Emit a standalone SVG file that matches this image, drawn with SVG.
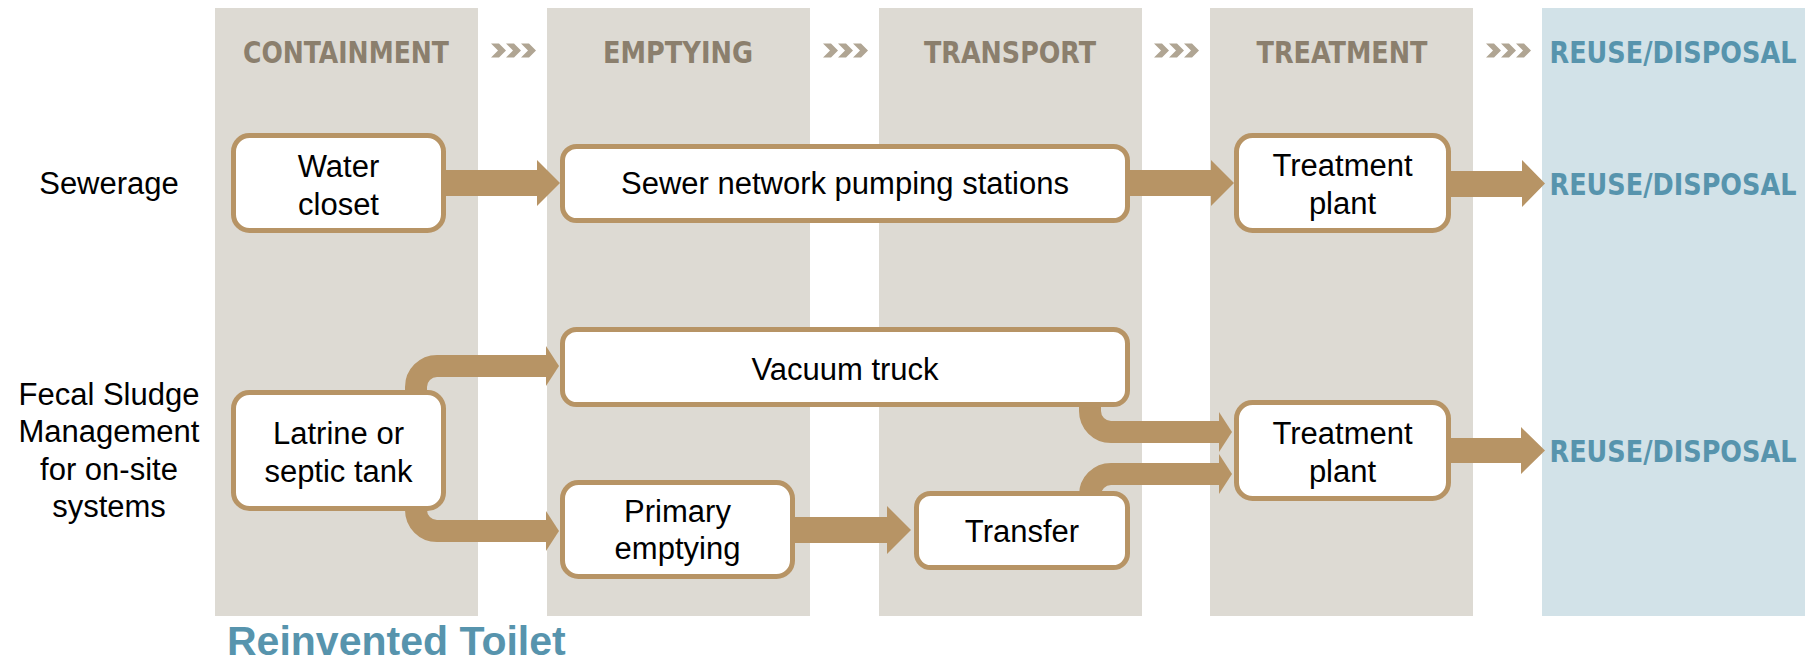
<svg xmlns="http://www.w3.org/2000/svg" width="1812" height="663" viewBox="0 0 1812 663">
  <style>
    .col { fill: #dddad3; }
    .colb { fill: #d2e2e8; }
    .hdr { font-family: "DejaVu Sans Condensed", "DejaVu Sans", sans-serif; font-stretch: condensed; font-weight: bold; font-size: 30px; fill: #8b7f6d; text-anchor: middle; }
    .hdrb { fill: #5794ad; }
    .chev { fill: #b0a593; }
    .box { fill: #ffffff; stroke: #b79465; stroke-width: 5; }
    .lbl { font-family: "Liberation Sans", Arial, sans-serif; font-size: 31px; fill: #000000; text-anchor: middle; }
    .arw { fill: #b79465; }
    .crv { fill: none; stroke: #b79465; stroke-width: 22; }
    .title { font-family: "Liberation Sans", Arial, sans-serif; font-weight: bold; font-size: 41px; fill: #5794ad; }
  </style>
  <defs>
    <polygon id="chv" points="0,0 8,0 15,7 8,14 0,14 7,7"/>
  </defs>

  <g id="columns">
    <rect class="col" x="215" y="8" width="263" height="608"/>
    <rect class="col" x="547" y="8" width="263" height="608"/>
    <rect class="col" x="879" y="8" width="263" height="608"/>
    <rect class="col" x="1210" y="8" width="263" height="608"/>
    <rect class="colb" x="1542" y="8" width="263" height="608"/>
  </g>

  <g id="headers">
    <text class="hdr" x="346" y="63" textLength="206" lengthAdjust="spacingAndGlyphs">CONTAINMENT</text>
    <text class="hdr" x="678" y="63" textLength="150" lengthAdjust="spacingAndGlyphs">EMPTYING</text>
    <text class="hdr" x="1010" y="63" textLength="172" lengthAdjust="spacingAndGlyphs">TRANSPORT</text>
    <text class="hdr" x="1342" y="63" textLength="171" lengthAdjust="spacingAndGlyphs">TREATMENT</text>
    <text class="hdr hdrb" x="1673" y="63" textLength="247" lengthAdjust="spacingAndGlyphs">REUSE/DISPOSAL</text>
  </g>

  <g id="chevrons">
    <use href="#chv" class="chev" x="491" y="43.5"/><use href="#chv" class="chev" x="506" y="43.5"/><use href="#chv" class="chev" x="521" y="43.5"/>
    <use href="#chv" class="chev" x="823" y="43.5"/><use href="#chv" class="chev" x="838" y="43.5"/><use href="#chv" class="chev" x="853" y="43.5"/>
    <use href="#chv" class="chev" x="1154" y="43.5"/><use href="#chv" class="chev" x="1169" y="43.5"/><use href="#chv" class="chev" x="1184" y="43.5"/>
    <use href="#chv" class="chev" x="1486" y="43.5"/><use href="#chv" class="chev" x="1501" y="43.5"/><use href="#chv" class="chev" x="1516" y="43.5"/>
  </g>

  <g id="row-labels">
    <text class="lbl" x="109" y="194">Sewerage</text>
    <text class="lbl" x="109" y="405">Fecal Sludge</text>
    <text class="lbl" x="109" y="442">Management</text>
    <text class="lbl" x="109" y="480">for on-site</text>
    <text class="lbl" x="109" y="517">systems</text>
  </g>

  <g id="connectors">
    <polygon class="arw" points="440,170 537,170 537,160 560,183 537,206 537,196 440,196"/>
    <polygon class="arw" points="1125,170 1211,170 1211,160 1234,183 1211,206 1211,196 1125,196"/>
    <polygon class="arw" points="1446,171 1522,171 1522,160 1545,183.5 1522,207 1522,197 1446,197"/>
    <polygon class="arw" points="1446,438 1521,438 1521,427 1545,450.5 1521,474 1521,463 1446,463"/>
    <polygon class="arw" points="790,517 887,517 887,506 911,530 887,554 887,543 790,543"/>
    <path class="crv" d="M 416 400 L 416 387 A 21 21 0 0 1 437 366 L 548 366"/>
    <polygon class="arw" points="546,346 559,366 546,386"/>
    <path class="crv" d="M 416 500 L 416 510 A 21 21 0 0 0 437 531 L 548 531"/>
    <polygon class="arw" points="546,511 559,531 546,551"/>
    <path class="crv" d="M 1090 400 L 1090 411 A 21 21 0 0 0 1111 432 L 1221 432"/>
    <polygon class="arw" points="1219,412 1232,432 1219,452"/>
    <path class="crv" d="M 1090 500 L 1090 495 A 21 21 0 0 1 1111 474 L 1221 474"/>
    <polygon class="arw" points="1219,454 1232,474 1219,494"/>
  </g>

  <g id="node-water-closet">
    <rect class="box" x="233.5" y="135.5" width="210" height="95" rx="16"/>
    <text class="lbl" x="338.5" y="177">Water</text>
    <text class="lbl" x="338.5" y="215">closet</text>
  </g>
  <g id="node-sewer-network">
    <rect class="box" x="562.5" y="146.5" width="565" height="74" rx="14"/>
    <text class="lbl" x="845" y="194">Sewer network pumping stations</text>
  </g>
  <g id="node-treatment-top">
    <rect class="box" x="1236.5" y="135.5" width="212" height="95" rx="16"/>
    <text class="lbl" x="1342.5" y="176">Treatment</text>
    <text class="lbl" x="1342.5" y="214">plant</text>
  </g>
  <g id="node-reuse-top">
    <text class="hdr hdrb" x="1673" y="195" textLength="247" lengthAdjust="spacingAndGlyphs">REUSE/DISPOSAL</text>
  </g>
  <g id="node-latrine">
    <rect class="box" x="233.5" y="392.5" width="210" height="116" rx="16"/>
    <text class="lbl" x="338.5" y="444">Latrine or</text>
    <text class="lbl" x="338.5" y="482">septic tank</text>
  </g>
  <g id="node-vacuum-truck">
    <rect class="box" x="562.5" y="329.5" width="565" height="75" rx="14"/>
    <text class="lbl" x="845" y="380">Vacuum truck</text>
  </g>
  <g id="node-primary-emptying">
    <rect class="box" x="562.5" y="482.5" width="230" height="94" rx="16"/>
    <text class="lbl" x="677.5" y="522">Primary</text>
    <text class="lbl" x="677.5" y="559">emptying</text>
  </g>
  <g id="node-transfer">
    <rect class="box" x="916.5" y="493.5" width="211" height="74" rx="14"/>
    <text class="lbl" x="1022" y="542">Transfer</text>
  </g>
  <g id="node-treatment-bottom">
    <rect class="box" x="1236.5" y="402.5" width="212" height="96" rx="16"/>
    <text class="lbl" x="1342.5" y="444">Treatment</text>
    <text class="lbl" x="1342.5" y="482">plant</text>
  </g>
  <g id="node-reuse-bottom">
    <text class="hdr hdrb" x="1673" y="462" textLength="247" lengthAdjust="spacingAndGlyphs">REUSE/DISPOSAL</text>
  </g>

  <text class="title" x="227" y="655">Reinvented Toilet</text>
</svg>
